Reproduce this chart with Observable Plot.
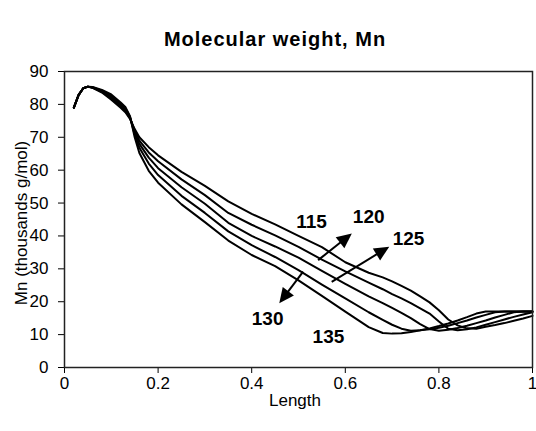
<!DOCTYPE html>
<html><head><meta charset="utf-8">
<script src="https://cdn.jsdelivr.net/npm/d3@7"></script>
<script src="https://cdn.jsdelivr.net/npm/@observablehq/plot@0.6"></script>
<style>body{margin:0;background:#fff} svg{display:block}</style>
</head><body><div id="chart"></div>
<script>
// Reactor length positions (shared by all series)
const lengthPoints = [0.02,0.03,0.04,0.05,0.06,0.08,0.10,0.12,0.13,0.14,0.15,0.16,0.18,0.20,0.25,0.30,0.35,0.40,0.45,0.50,0.55,0.60,0.65,0.68,0.70,0.72,0.74,0.76,0.78,0.80,0.82,0.84,0.86,0.88,0.90,0.92,0.94,0.96,0.98,1.00];
// Mn (thousands g/mol) per temperature
const mn115 = [79,82.8,84.9,85.4,85.0,83.6,81.4,79.0,77.6,75.6,72.5,70.0,67.0,64.5,59.5,55.2,50.5,46.7,43.5,40.0,36.6,32.0,28.8,27.4,26.2,24.8,23.4,21.6,19.8,17.4,14.6,12.8,11.9,11.8,12.4,12.9,13.5,14.2,14.9,15.7];
const mn120 = [79,82.8,84.9,85.4,85.1,83.8,81.8,79.4,78.0,75.8,72.0,69.0,65.4,62.7,57.2,52.4,47.0,43.4,40.2,36.7,32.8,29.2,25.8,23.8,22.3,21.0,19.6,18.0,16.4,14.0,11.8,11.3,11.6,12.2,13.0,13.8,14.6,15.4,16.1,16.8];
const mn125 = [79,82.8,84.9,85.4,85.1,84.0,82.2,79.8,78.4,76.0,71.5,68.0,63.8,60.6,54.8,49.8,44.0,40.0,36.8,33.4,29.4,25.4,21.6,19.6,18.1,16.6,15.0,13.2,11.7,11.2,11.5,12.0,12.7,13.5,14.3,15.2,16.0,16.8,17.0,17.0];
const mn130 = [79,82.8,84.9,85.4,85.2,84.2,82.6,80.2,78.8,76.2,70.8,66.8,62.0,58.5,52.2,47.0,41.4,37.2,33.6,29.6,25.2,21.0,16.8,14.5,13.0,11.8,11.2,11.3,11.6,12.1,12.7,13.5,14.3,15.2,16.0,16.8,17.0,17.0,17.0,17.0];
const mn135 = [79,82.8,84.9,85.4,85.3,84.4,83.0,80.6,79.2,76.4,70.0,65.2,59.8,56.2,49.6,44.2,38.6,34.2,30.8,26.5,21.8,17.0,12.3,10.5,10.3,10.4,10.8,11.3,11.9,12.6,13.4,14.3,15.3,16.4,17.0,17.0,17.0,17.0,17.0,17.0];
const seriesNames = ["115","120","125","130","135"];
const seriesValues = [mn115, mn120, mn125, mn130, mn135];

const xTicks = [0,0.2,0.4,0.6,0.8,1];
const yTicks = [0,10,20,30,40,50,60,70,80,90];

// Annotation labels
const labelText = ["115","120","125","130","135"];
const labelX = [0.528,0.650,0.735,0.434,0.564];
const labelY = [44.4,45.9,39.2,14.9,9.4];
// Annotation arrows (start -> tip)
const arrowX1 = [0.543,0.572,0.511];
const arrowY1 = [32.5,25.9,29.0];
const arrowX2 = [0.615,0.695,0.460];
const arrowY2 = [40.6,36.6,19.4];

const titleText = "Molecular weight, Mn";
const xLabel = "Length";
const yLabel = "Mn (thousands g/mol)";

const rows = [];
seriesNames.forEach((name, k) => lengthPoints.forEach((x, i) => rows.push({series: name, length: x, mn: seriesValues[k][i]})));
const labels = labelText.map((t, i) => ({t, x: labelX[i], y: labelY[i]}));
const arrows = arrowX1.map((_, i) => ({x1: arrowX1[i], y1: arrowY1[i], x2: arrowX2[i], y2: arrowY2[i]}));

const font = "'Liberation Sans', Arial, sans-serif";

function arrowMark(index, scales) {
  const g = d3.create("svg:g");
  for (const a of arrows) {
    const x1 = scales.x(a.x1), y1 = scales.y(a.y1), x2 = scales.x(a.x2), y2 = scales.y(a.y2);
    const ang = Math.atan2(y2 - y1, x2 - x1);
    const L = 15, W = 7;
    const bx = x2 - L * Math.cos(ang), by = y2 - L * Math.sin(ang);
    const px = -Math.sin(ang) * W, py = Math.cos(ang) * W;
    g.append("line").attr("x1", x1).attr("y1", y1).attr("x2", bx + Math.cos(ang)*2).attr("y2", by + Math.sin(ang)*2)
      .attr("stroke", "black").attr("stroke-width", 2);
    g.append("path").attr("d", `M${x2},${y2}L${bx + px},${by + py}L${bx - px},${by - py}Z`).attr("fill", "black");
  }
  return g.node();
}

function textMark(index, scales, values, dims) {
  const g = d3.create("svg:g").attr("font-family", font).attr("fill", "black");
  g.append("text").attr("x", 275).attr("y", 46).attr("text-anchor", "middle")
    .attr("font-size", 20).attr("font-weight", "bold").attr("letter-spacing", "1px").text(titleText);
  const cx = (dims.marginLeft + dims.width - dims.marginRight) / 2;
  g.append("text").attr("x", cx - 3).attr("y", dims.height - 25).attr("text-anchor", "middle")
    .attr("font-size", 17).text(xLabel);
  g.append("text").attr("transform", `translate(27,${(dims.marginTop + dims.height - dims.marginBottom) / 2 + 4}) rotate(-90)`)
    .attr("text-anchor", "middle").attr("font-size", 17).text(yLabel);
  return g.node();
}

const chart = Plot.plot({
  width: 536,
  height: 431,
  marginLeft: 64,
  marginRight: 4,
  marginTop: 71,
  marginBottom: 64,
  style: {fontFamily: font, fontSize: "17px", background: "white", color: "black"},
  x: {domain: [0, 1], ticks: xTicks, tickFormat: d => String(+d.toFixed(1)), tickSize: 6, tickPadding: 3, label: null},
  y: {domain: [0, 90], ticks: yTicks, tickSize: 6, tickPadding: 10, label: null},
  marks: [
    Plot.line(rows, {x: "length", y: "mn", z: "series", stroke: "black", strokeWidth: 2, curve: "linear"}),
    Plot.frame({stroke: "#222", strokeWidth: 1.5}),
    Plot.text(labels, {x: "x", y: "y", text: "t", fontWeight: "bold", fontSize: 19, fill: "black"}),
    arrowMark,
    textMark
  ]
});
document.getElementById("chart").appendChild(chart);
</script>
</body></html>
